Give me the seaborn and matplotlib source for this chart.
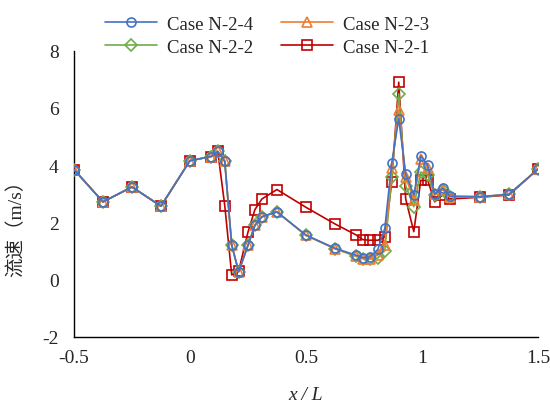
import numpy as np
import pandas as pd
import matplotlib
matplotlib.use("Agg")
import matplotlib.pyplot as plt
import seaborn as sns

x_pos = [-0.5, -0.375, -0.25, -0.125, 0.0, 0.09, 0.12, 0.15, 0.18, 0.21, 0.25, 0.28, 0.31,
         0.375, 0.5, 0.625, 0.715, 0.745, 0.775, 0.81, 0.84, 0.87, 0.90, 0.93, 0.965, 0.995,
         1.025, 1.055, 1.09, 1.12, 1.25, 1.375, 1.5]

v_n24 = [3.85, 2.72, 3.24, 2.57, 4.16, 4.30, 4.48, 4.14, 1.21, 0.28, 1.20, 1.90, 2.20,
         2.37, 1.56, 1.10, 0.86, 0.77, 0.79, 1.06, 1.79, 4.09, 5.62, 3.70, 2.96, 4.32,
         4.00, 3.00, 3.20, 2.92, 2.90, 2.98, 3.86]
v_n23 = [3.85, 2.72, 3.24, 2.57, 4.16, 4.30, 4.48, 4.14, 1.21, 0.28, 1.20, 1.90, 2.20,
         2.37, 1.55, 1.09, 0.84, 0.74, 0.73, 0.86, 1.20, 3.89, 5.93, 3.58, 2.80, 4.20,
         3.90, 3.00, 3.15, 2.90, 2.90, 2.98, 3.86]
v_n22 = [3.85, 2.72, 3.24, 2.57, 4.16, 4.30, 4.48, 4.14, 1.21, 0.28, 1.20, 1.90, 2.20,
         2.37, 1.55, 1.08, 0.82, 0.74, 0.72, 0.76, 1.02, 3.58, 6.49, 3.29, 2.55, 3.76,
         3.65, 2.95, 3.15, 2.90, 2.90, 2.98, 3.86]
v_n21 = [3.85, 2.72, 3.24, 2.57, 4.16, 4.30, 4.48, 2.59, 0.17, 0.30, 1.66, 2.45, 2.82,
         3.15, 2.53, 1.95, 1.57, 1.40, 1.38, 1.38, 1.49, 3.42, 6.90, 2.82, 1.68, 3.47,
         3.47, 2.72, 2.97, 2.82, 2.88, 2.96, 3.86]

cases = ["Case N-2-4", "Case N-2-3", "Case N-2-2", "Case N-2-1"]
series = [v_n24, v_n23, v_n22, v_n21]
colors = ["#4472C4", "#ED7D31", "#70AD47", "#C00000"]
markers = ["o", "^", "D", "s"]
msizes = [6.5, 7.5, 6, 7]

x_ticks = [-0.5, 0, 0.5, 1, 1.5]
x_ticklabels = ["-0.5", "0", "0.5", "1", "1.5"]
y_ticks = [-2, 0, 2, 4, 6, 8]
y_ticklabels = ["-2", "0", "2", "4", "6", "8"]

df = pd.concat([pd.DataFrame({"x": x_pos, "v": s, "case": c}) for c, s in zip(cases, series)],
               ignore_index=True)

sns.set_style("white")
plt.rcParams["font.family"] = ["Liberation Serif", "Noto Sans CJK SC"]
plt.rcParams["axes.unicode_minus"] = False

fig = plt.figure(figsize=(5.5, 4.06), dpi=100)
ax = fig.add_axes([0.1345, 0.1675, 0.978 - 0.1345, 0.8727 - 0.1675])

handles = {}
for i in [3, 2, 1, 0]:
    c = cases[i]
    sub = df[df["case"] == c]
    sns.lineplot(data=sub, x="x", y="v", ax=ax, color=colors[i], marker=markers[i],
                 markersize=msizes[i], markerfacecolor="none", markeredgecolor=colors[i],
                 markeredgewidth=1.2, linewidth=1.2, label=c, zorder=10 - i, legend=False)
    handles[c] = ax.lines[-1]

ax.set_xlim(-0.5, 1.5)
ax.set_ylim(-2, 8)
ax.set_xticks(x_ticks)
ax.set_xticklabels(x_ticklabels)
ax.set_yticks(y_ticks)
ax.set_yticklabels(y_ticklabels)
ax.tick_params(axis="both", direction="in", length=4, width=1, labelsize=14, color="black")
ax.tick_params(axis="y", pad=11)
ax.tick_params(axis="x", pad=9)
for sp in ["top", "right"]:
    ax.spines[sp].set_visible(False)
for sp in ["left", "bottom"]:
    ax.spines[sp].set_color("black")
    ax.spines[sp].set_linewidth(1)

ax.set_xlabel("x / L", fontsize=14, style="italic", labelpad=14)
ax.set_ylabel("流速（m/s）", fontsize=14, labelpad=8)
ax.yaxis.set_label_coords(-0.105, 0.4)

order = ["Case N-2-4", "Case N-2-2", "Case N-2-3", "Case N-2-1"]
fig.legend([handles[c] for c in order], order, loc="upper center", ncol=2,
           bbox_to_anchor=(0.485, 1.0), frameon=False, fontsize=13.5,
           handlelength=2.8, handletextpad=0.5, columnspacing=1.5, labelspacing=0.3)

fig.savefig("out.png", dpi=100)
